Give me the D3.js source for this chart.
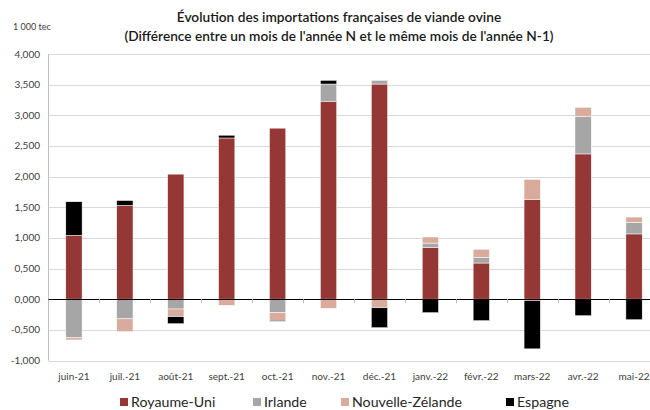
<!DOCTYPE html>
<html>
<head>
<meta charset="utf-8">
<script src="https://cdn.jsdelivr.net/npm/d3@7.9.0/dist/d3.min.js"></script>
<style>
  body { margin: 0; background: #fff; }
  svg { display: block; font-family: "Lato", "Noto Sans", sans-serif; }
</style>
</head>
<body>
<svg id="chart" width="650" height="410"></svg>
<script>
// data (1 000 tec)
const months = ['juin-21', 'juil.-21', 'août-21', 'sept.-21', 'oct.-21', 'nov.-21',
  'déc.-21', 'janv.-22', 'févr.-22', 'mars-22', 'avr.-22', 'mai-22'];
const royaumeUni = [1.04, 1.53, 2.04, 2.63, 2.79, 3.23, 3.51, 0.84, 0.59, 1.63, 2.37, 1.065];
const irlande = [-0.63, -0.32, -0.16, 0, -0.22, 0.28, 0.06, 0.075, 0.095, -0.02, 0.615, 0.19];
const nouvelleZelande = [-0.035, -0.21, -0.125, -0.10, -0.125, -0.15, -0.14, 0.10, 0.13, 0.325, 0.145, 0.085];
const espagne = [0.55, 0.08, -0.115, 0.045, -0.015, 0.06, -0.325, -0.22, -0.35, -0.79, -0.27, -0.335];
const yTicks = [-1, -0.5, 0, 0.5, 1, 1.5, 2, 2.5, 3, 3.5, 4];

const seriesNames = ['Royaume-Uni', 'Irlande', 'Nouvelle-Zélande', 'Espagne'];
const seriesValues = [royaumeUni, irlande, nouvelleZelande, espagne];
const colors = ['#953735', '#a6a6a6', '#d9ab9c', '#000000'];

const svg = d3.select('#chart');

// build table for the stack
const table = months.map((m, i) => {
  const row = { month: m };
  seriesNames.forEach((s, k) => { row[s] = seriesValues[k][i]; });
  return row;
});

const x = d3.scaleBand()
  .domain(months)
  .range([48.5, 659.5])
  .paddingInner(0.68)
  .paddingOuter(0.34);

const y = d3.scaleLinear()
  .domain([-1, 4])
  .range([360.5, 54]);

const fmt = v => v.toFixed(3).replace('.', ',');

// gridlines
svg.append('g')
  .selectAll('line')
  .data(yTicks.filter(d => d !== 0))
  .join('line')
  .attr('x1', 48.5).attr('x2', 650)
  .attr('y1', d => Math.round(y(d)) + 0.5)
  .attr('y2', d => Math.round(y(d)) + 0.5)
  .attr('stroke', '#d9d9d9')
  .attr('stroke-width', 1);

// y axis line
svg.append('line')
  .attr('x1', 48.5).attr('x2', 48.5)
  .attr('y1', y(4)).attr('y2', y(-1))
  .attr('stroke', '#bfbfbf');

// y tick labels
svg.append('g')
  .selectAll('text')
  .data(yTicks)
  .join('text')
  .attr('x', 40)
  .attr('y', d => y(d))
  .attr('dy', '0.35em')
  .attr('text-anchor', 'end')
  .attr('font-size', 10)
  .attr('fill', '#404040')
  .text(fmt);

// stacked bars
const stack = d3.stack()
  .keys(seriesNames)
  .offset(d3.stackOffsetDiverging);
const layers = stack(table);

svg.append('g')
  .selectAll('g')
  .data(layers)
  .join('g')
  .attr('fill', (d, i) => colors[i])
  .selectAll('rect')
  .data(d => d)
  .join('rect')
  .attr('x', d => x(d.data.month))
  .attr('width', x.bandwidth())
  .attr('y', d => y(Math.max(d[0], d[1])))
  .attr('height', d => Math.abs(y(d[0]) - y(d[1])))
  .attr('stroke', '#fff')
  .attr('stroke-width', 0.5);

// zero line
svg.append('line')
  .attr('x1', 48.5).attr('x2', 650)
  .attr('y1', Math.round(y(0)) + 0.5).attr('y2', Math.round(y(0)) + 0.5)
  .attr('stroke', '#000')
  .attr('stroke-width', 1.2);

// x ticks between categories
svg.append('g')
  .selectAll('line')
  .data(months.slice(0, -1))
  .join('line')
  .attr('x1', d => Math.round(x(d) + x.bandwidth() + (x.step() - x.bandwidth()) / 2) + 0.5)
  .attr('x2', d => Math.round(x(d) + x.bandwidth() + (x.step() - x.bandwidth()) / 2) + 0.5)
  .attr('y1', y(0)).attr('y2', y(0) + 4)
  .attr('stroke', '#bfbfbf');

// x labels
svg.append('g')
  .selectAll('text')
  .data(months)
  .join('text')
  .attr('x', d => x(d) + x.bandwidth() / 2)
  .attr('y', 380)
  .attr('text-anchor', 'middle')
  .attr('font-size', 10)
  .attr('fill', '#404040')
  .text(d => d);

// titles
svg.append('text')
  .attr('x', 13).attr('y', 30)
  .attr('font-size', 9)
  .attr('fill', '#404040')
  .text('1 000 tec');

svg.append('text')
  .attr('x', 339).attr('y', 22)
  .attr('text-anchor', 'middle')
  .attr('font-size', 13.7)
  .attr('font-weight', 600)
  .attr('fill', '#1a1a1a')
  .text('Évolution des importations françaises de viande ovine');

svg.append('text')
  .attr('x', 339).attr('y', 41)
  .attr('text-anchor', 'middle')
  .attr('font-size', 13.7)
  .attr('font-weight', 600)
  .attr('fill', '#1a1a1a')
  .text("(Différence entre un mois de l'année N et le même mois de l'année N-1)");

// legend
const legendX = [120, 253, 341, 506];
const legend = svg.append('g')
  .selectAll('g')
  .data(seriesNames)
  .join('g')
  .attr('transform', (d, i) => `translate(${legendX[i]},398)`);
legend.append('rect')
  .attr('width', 8).attr('height', 8)
  .attr('fill', (d, i) => colors[i]);
legend.append('text')
  .attr('x', 11).attr('y', 9)
  .attr('font-size', 14.2)
  .attr('fill', '#262626')
  .text(d => d);
</script>
</body>
</html>
